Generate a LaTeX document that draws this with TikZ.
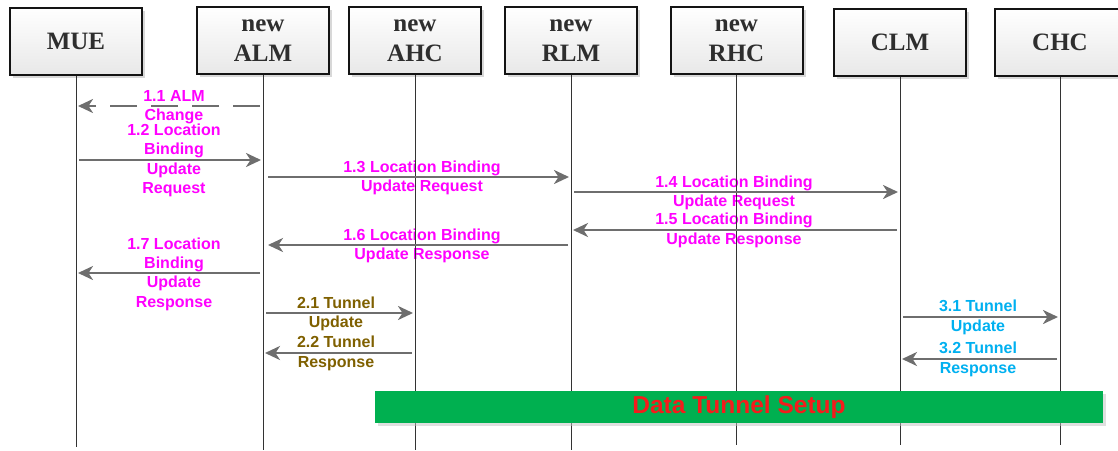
\documentclass[tikz,border=0pt]{standalone}
\usepackage{fontspec}
\setmainfont{Liberation Serif}
\newfontfamily\lsans{Liberation Sans}
\usetikzlibrary{arrows.meta,shadows}
\definecolor{msggray}{HTML}{6E6E6E}
\definecolor{mag}{HTML}{FF00FF}
\definecolor{olivec}{HTML}{7F6000}
\definecolor{cyanb}{HTML}{00B0F0}
\definecolor{tgreen}{HTML}{00B050}
\definecolor{tred}{HTML}{F41C1C}
\definecolor{boxtext}{HTML}{2E2E2E}
\begin{document}
\begin{tikzpicture}[x=1pt,y=-1pt,
  entity/.style={draw=black!92, line width=2pt, minimum width=132pt, minimum height=67pt,
    inner sep=0pt, top color=white, bottom color=black!9,
    font=\bfseries\fontsize{25}{29.5}\selectfont, text=boxtext, align=center,
    drop shadow={shadow xshift=3pt, shadow yshift=-3pt, fill=black!30, opacity=0.5}},
  lifeline/.style={draw=black!80, line width=0.8pt},
  msg/.style={draw=msggray, line width=2.6pt, shorten <=3pt, shorten >=2pt,
    -{Stealth[length=15pt,width=14pt,inset=4.5pt]}},
  dashmsg/.style={msg, dash pattern=on 27pt off 14pt},
  lbl/.style={font=\lsans\bfseries\fontsize{16}{19.3}\selectfont, align=center, inner sep=0pt},
  lblm/.style={lbl, text=mag},
  lblo/.style={lbl, text=olivec},
  lblc/.style={lbl, text=cyanb},
]
\useasboundingbox (0,0) rectangle (1118,450);

% entities
\node[entity] (MUE) at (76,41) {MUE};
\node[entity] (ALM) at (263,40.5) {new\\ALM};
\node[entity] (AHC) at (415,40.5) {new\\AHC};
\node[entity] (RLM) at (571,40.5) {new\\RLM};
\node[entity] (RHC) at (736.5,40.5) {new\\RHC};
\node[entity] (CLM) at (900,42) {CLM};
\node[entity, minimum width=130pt] (CHC) at (1060,42) {CHC};

% labels
\node[lblm] (l11) at (174,107) {1.1 ALM\\Change};
\node[lblm] (l12) at (174,160.5) {1.2 Location\\Binding\\Update\\Request};
\node[lblm] (l13) at (422,178) {1.3 Location Binding\\Update Request};
\node[lblm] (l14) at (734,193) {1.4 Location Binding\\Update Request};
\node[lblm] (l15) at (734,230.5) {1.5 Location Binding\\Update Response};
\node[lblm] (l16) at (422,246) {1.6 Location Binding\\Update Response};
\node[lblm] (l17) at (174,274) {1.7 Location\\Binding\\Update\\Response};
\node[lblo] (l21) at (336,314) {2.1 Tunnel\\Update};
\node[lblo] (l22) at (336,353.5) {2.2 Tunnel\\Response};
\node[lblc] (l31) at (978,317.5) {3.1 Tunnel\\Update};
\node[lblc] (l32) at (978,359.5) {3.2 Tunnel\\Response};

% lifelines
\coordinate (MUEe) at (MUE |- 0,447);
\coordinate (ALMe) at (ALM |- 0,450);
\coordinate (AHCe) at (AHC |- 0,450);
\coordinate (RLMe) at (RLM |- 0,450);
\coordinate (RHCe) at (RHC |- 0,445);
\coordinate (CLMe) at (CLM |- 0,445);
\coordinate (CHCe) at (CHC |- 0,445);
\foreach \n in {MUE,ALM,AHC,RLM,RHC,CLM,CHC}
  \draw[lifeline] (\n.south) -- (\n e);

% messages
\draw[dashmsg] (ALM |- 0,106) -- (MUE |- 0,106);
\draw[msg] (MUE |- 0,160) -- (ALM |- 0,160);
\draw[msg, shorten <=5pt] (ALM |- 0,177) -- (RLM |- 0,177);
\draw[msg] (RLM |- 0,192) -- (CLM |- 0,192);
\draw[msg] (CLM |- 0,230) -- (RLM |- 0,230);
\draw[msg, shorten >=5pt] (RLM |- 0,245) -- (ALM |- 0,245);
\draw[msg] (ALM |- 0,273) -- (MUE |- 0,273);
\draw[msg] (ALM |- 0,313) -- (AHC |- 0,313);
\draw[msg] (AHC |- 0,353) -- (ALM |- 0,353);
\draw[msg] (CLM |- 0,317) -- (CHC |- 0,317);
\draw[msg] (CHC |- 0,359) -- (CLM |- 0,359);

% data tunnel bar
\node[fill=tgreen, minimum width=728pt, minimum height=32pt, inner sep=0pt,
  font=\lsans\bfseries\fontsize{24.5}{28}\selectfont, text=tred,
  drop shadow={shadow xshift=3pt, shadow yshift=-3pt, fill=black!25, opacity=0.5}]
  (bar) at (739,407) {Data Tunnel Setup};
\end{tikzpicture}
\end{document}
